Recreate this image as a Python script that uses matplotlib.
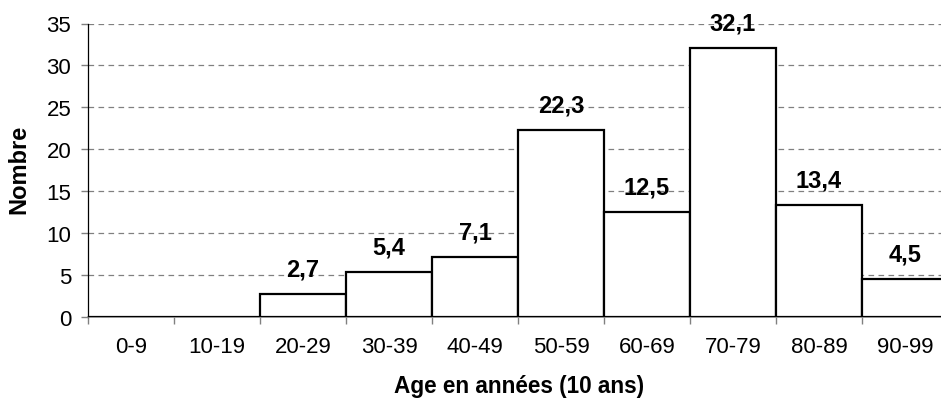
import numpy as np
import matplotlib.pyplot as plt

plt.rcParams['font.family'] = ['Liberation Sans', 'DejaVu Sans']

categories = ['0-9', '10-19', '20-29', '30-39', '40-49', '50-59', '60-69', '70-79', '80-89', '90-99']
values = [0, 0, 2.7, 5.4, 7.1, 22.3, 12.5, 32.1, 13.4, 4.5]

fig = plt.figure(figsize=(9.41, 4.06), dpi=100)
ax = fig.add_axes([88 / 941, 88 / 406, 860 / 941, 293.5 / 406])

x = np.arange(len(categories))
ax.bar(x, values, width=1.0, color='white', edgecolor='black', linewidth=1.6, zorder=3)

for xi, v in zip(x, values):
    if v > 0:
        ax.annotate(f'{v:.1f}'.replace('.', ','), (xi, v), xytext=(0, 18),
                    textcoords='offset points', ha='center', va='center',
                    fontsize=17, fontweight='bold', zorder=4)

ax.set_xlim(-0.5, len(categories) - 0.5)
ax.set_ylim(0, 35)
ax.set_yticks(range(0, 36, 5))
ax.yaxis.grid(True, color='#808080', linestyle=(0, (4.5, 3.5)), linewidth=0.9, zorder=1)

ax.set_xticks(x)
ax.set_xticklabels(categories)
ax.set_xticks(np.arange(-0.5, len(categories), 1), minor=True)
ax.tick_params(axis='x', which='major', length=0, pad=14, labelsize=16)
ax.tick_params(axis='x', which='minor', length=5, color='#808080', width=1, direction='out')
ax.tick_params(axis='y', length=5, color='#808080', width=1, pad=7, labelsize=16)

for s in ['top', 'right']:
    ax.spines[s].set_visible(False)
ax.spines['left'].set_color('black')
ax.spines['left'].set_linewidth(0.9)
ax.spines['bottom'].set_color('#808080')
ax.spines['bottom'].set_linewidth(1.2)

fig.text(519 / 941, 1 - 387 / 406, 'Age en années (10 ans)', ha='center', va='center',
         fontsize=16.3, fontweight='bold')
fig.text(19 / 941, 1 - 169 / 406, 'Nombre', ha='center', va='center', rotation=90,
         fontsize=17, fontweight='bold')

fig.savefig('out.png', dpi=100)
